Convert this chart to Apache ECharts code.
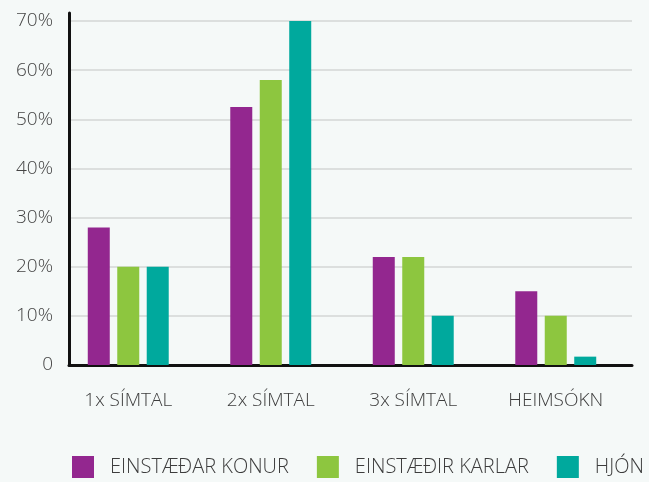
<!DOCTYPE html>
<html>
<head>
<meta charset="utf-8">
<script src="https://cdn.jsdelivr.net/npm/echarts@6/dist/echarts.min.js"></script>
<style>
  html, body { margin: 0; padding: 0; background: #f5f9f8; }
  #chart { width: 649px; height: 482px; }
</style>
</head>
<body>
<div id="chart"></div>
<script>
// flokkar og gildi (%)
var categories = ["1x SÍMTAL", "2x SÍMTAL", "3x SÍMTAL", "HEIMSÓKN"];
var seriesNames = ["EINSTÆÐAR KONUR", "EINSTÆÐIR KARLAR", "HJÓN"];
var konur = [28, 52.5, 22, 15];
var karlar = [20, 58, 22, 10];
var hjon = [20, 70, 10, 1.7];
var colors = ["#93278f", "#8dc63f", "#00a99d"];
var yMax = 70;
var yStep = 10;

var myChart = echarts.init(document.getElementById("chart"));
var txt = { fontFamily: "Open Sans", color: "#3d3d3d" };

function barSeries(name, data, color) {
  return {
    name: name,
    type: "bar",
    xAxisIndex: 0,
    yAxisIndex: 0,
    data: data,
    barWidth: 22,
    barGap: "34%",
    itemStyle: { color: color },
    z: 3
  };
}

var option = {
  backgroundColor: "#f5f9f8",
  animation: false,
  color: colors,
  legend: {
    left: 67,
    top: 451,
    itemWidth: 22,
    itemHeight: 22,
    itemGap: 28,
    icon: "rect",
    textStyle: {
      fontFamily: "Open Sans",
      fontWeight: 300,
      fontSize: 20,
      color: "#3d3d3d",
      padding: [5, 0, 0, 11]
    },
    data: seriesNames
  },
  grid: [
    // bars
    { left: 57, right: 22, top: 21, bottom: 117 },
    // gridlines + labels
    { left: 69, right: 17, top: 21, bottom: 117 },
    // y axis line (reaches a bit above the 70% line)
    { left: 69, right: 17, top: 13, bottom: 117 }
  ],
  xAxis: [
    {
      gridIndex: 0,
      type: "category",
      data: categories,
      axisLine: { show: false },
      axisTick: { show: false },
      axisLabel: {
        margin: 26,
        fontSize: 19,
        fontWeight: 300,
        fontFamily: txt.fontFamily,
        color: txt.color
      }
    },
    {
      gridIndex: 1,
      type: "value",
      axisLabel: { show: false },
      axisTick: { show: false },
      splitLine: { show: false },
      axisLine: { show: true, lineStyle: { color: "#111", width: 3 } }
    },
    {
      gridIndex: 2,
      type: "value",
      show: false
    }
  ],
  yAxis: [
    { gridIndex: 0, type: "value", min: 0, max: yMax, show: false },
    {
      gridIndex: 1,
      type: "value",
      min: 0,
      max: yMax,
      interval: yStep,
      axisLine: { show: false },
      axisTick: { show: false },
      axisLabel: {
        margin: 16,
        fontSize: 19,
        fontWeight: 300,
        fontFamily: txt.fontFamily,
        color: "#444",
        formatter: function (v) { return v === 0 ? "0" : v + "%"; }
      },
      splitLine: { lineStyle: { color: "#d3d6d6", width: 1.5 } }
    },
    {
      gridIndex: 2,
      type: "value",
      min: 0,
      max: 1,
      axisLabel: { show: false },
      axisTick: { show: false },
      splitLine: { show: false },
      axisLine: { show: true, lineStyle: { color: "#111", width: 3 } }
    }
  ],
  series: [
    barSeries(seriesNames[0], konur, colors[0]),
    barSeries(seriesNames[1], karlar, colors[1]),
    barSeries(seriesNames[2], hjon, colors[2])
  ]
};
myChart.setOption(option);
</script>
</body>
</html>
